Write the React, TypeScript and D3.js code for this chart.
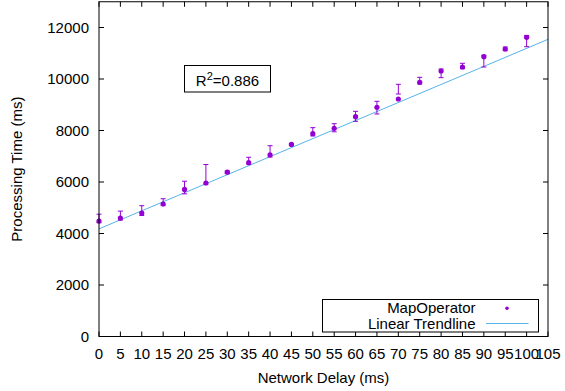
import React, { useEffect, useRef } from 'react';
import * as d3 from 'd3';

// Network delay (ms)
const delays = [0, 5, 10, 15, 20, 25, 30, 35, 40, 45, 50, 55, 60, 65, 70, 75, 80, 85, 90, 95, 100];
// Mean processing time (ms) for MapOperator
const means = [4485, 4600, 4795, 5145, 5710, 5961, 6380, 6750, 7055, 7460, 7876, 8085, 8536, 8900, 9223, 9872, 10311, 10466, 10866, 11165, 11619];
// Error bar low / high
const lows = [4420, 4520, 4700, 5100, 5540, 5920, 6330, 6700, 6970, 7420, 7790, 7950, 8357, 8641, 9417, 9806, 10051, 10400, 10466, 11100, 11254];
const highs = [4750, 4870, 5080, 5350, 6030, 6680, 6430, 6960, 7410, 7500, 8110, 8264, 8745, 9134, 9794, 10066, 10388, 10610, 10920, 11243, 11690];

const xTicks = d3.range(0, 106, 5);
const yTicks = [0, 2000, 4000, 6000, 8000, 10000, 12000];

const trendSlope = 70.1;
const trendIntercept = 4180;
const rSquared = '0.886';

const W = 565;
const H = 391;

export default function App() {
  const ref = useRef<SVGSVGElement>(null);

  useEffect(() => {
    const svg = d3.select(ref.current);
    svg.selectAll('*').remove();

    const left = 99, right = 548, top = 1.75, bottom = 336.5;
    const font = 'Liberation Sans, Arial, sans-serif';

    const x = d3.scaleLinear().domain([0, 105]).range([left, right]);
    const y = d3.scaleLinear().domain([0, 13000]).range([bottom, top]);

    const g = svg.append('g');

    // ticks (inward, mirrored)
    const tickLen = 5;
    xTicks.forEach(t => {
      g.append('line').attr('x1', x(t)).attr('x2', x(t))
        .attr('y1', bottom).attr('y2', bottom - tickLen)
        .attr('stroke', 'black').attr('stroke-width', 1);
      g.append('line').attr('x1', x(t)).attr('x2', x(t))
        .attr('y1', top).attr('y2', top + tickLen)
        .attr('stroke', 'black').attr('stroke-width', 1);
      g.append('text')
        .attr('x', x(t)).attr('y', 358.5)
        .attr('text-anchor', 'middle')
        .attr('font-family', font).attr('font-size', 15)
        .text(t);
    });
    yTicks.forEach(t => {
      g.append('line').attr('x1', left).attr('x2', left + tickLen)
        .attr('y1', y(t)).attr('y2', y(t))
        .attr('stroke', 'black').attr('stroke-width', 1);
      g.append('line').attr('x1', right).attr('x2', right - tickLen)
        .attr('y1', y(t)).attr('y2', y(t))
        .attr('stroke', 'black').attr('stroke-width', 1);
      g.append('text')
        .attr('x', 89).attr('y', y(t) + 5.3)
        .attr('text-anchor', 'end')
        .attr('font-family', font).attr('font-size', 15)
        .text(t);
    });

    // trendline
    const line = d3.line<number>()
      .x(d => x(d))
      .y(d => y(trendIntercept + trendSlope * d));
    g.append('path')
      .datum([0, 105])
      .attr('d', line)
      .attr('fill', 'none')
      .attr('stroke', '#56b4e9')
      .attr('stroke-width', 1);

    // error bars
    const cap = 2.5;
    delays.forEach((d, i) => {
      const cx = x(d);
      g.append('line').attr('x1', cx).attr('x2', cx)
        .attr('y1', y(lows[i])).attr('y2', y(highs[i]))
        .attr('stroke', '#9400d3').attr('stroke-width', 1);
      [lows[i], highs[i]].forEach(v => {
        g.append('line').attr('x1', cx - cap).attr('x2', cx + cap)
          .attr('y1', y(v)).attr('y2', y(v))
          .attr('stroke', '#9400d3').attr('stroke-width', 1);
      });
    });

    // points
    g.selectAll('circle.pt')
      .data(delays)
      .enter()
      .append('circle')
      .attr('class', 'pt')
      .attr('cx', d => x(d))
      .attr('cy', (d, i) => y(means[i]))
      .attr('r', 2.6)
      .attr('fill', '#9400d3');

    // border
    g.append('rect')
      .attr('x', left).attr('y', top)
      .attr('width', right - left).attr('height', bottom - top)
      .attr('fill', 'none').attr('stroke', 'black').attr('stroke-width', 1);

    // R^2 label
    g.append('rect')
      .attr('x', 184.5).attr('y', 65.5)
      .attr('width', 86).attr('height', 26.5)
      .attr('fill', 'white').attr('stroke', 'black').attr('stroke-width', 1);
    const r2 = g.append('text')
      .attr('x', 227.5).attr('y', 85.5)
      .attr('text-anchor', 'middle')
      .attr('font-family', font).attr('font-size', 15);
    r2.append('tspan').text('R');
    r2.append('tspan').attr('dy', -6).attr('font-size', 11).text('2');
    r2.append('tspan').attr('dy', 6).text('=' + rSquared);

    // legend
    g.append('rect')
      .attr('x', 322.5).attr('y', 299.5)
      .attr('width', 216).attr('height', 32.5)
      .attr('fill', 'white').attr('stroke', 'black').attr('stroke-width', 1);
    g.append('text')
      .attr('x', 475.5).attr('y', 312.8)
      .attr('text-anchor', 'end')
      .attr('font-family', font).attr('font-size', 15)
      .text('MapOperator');
    g.append('circle')
      .attr('cx', 507).attr('cy', 308.3).attr('r', 1.8)
      .attr('fill', '#9400d3');
    g.append('text')
      .attr('x', 475.5).attr('y', 328.8)
      .attr('text-anchor', 'end')
      .attr('font-family', font).attr('font-size', 15)
      .text('Linear Trendline');
    g.append('line')
      .attr('x1', 486).attr('x2', 528.5)
      .attr('y1', 323.5).attr('y2', 323.5)
      .attr('stroke', '#56b4e9').attr('stroke-width', 1);

    // axis titles
    g.append('text')
      .attr('x', (left + right) / 2).attr('y', 383)
      .attr('text-anchor', 'middle')
      .attr('font-family', font).attr('font-size', 15)
      .text('Network Delay (ms)');
    g.append('text')
      .attr('transform', `translate(22, ${(top + bottom) / 2}) rotate(-90)`)
      .attr('text-anchor', 'middle')
      .attr('font-family', font).attr('font-size', 15)
      .text('Processing Time (ms)');
  }, []);

  return (
    <svg
      ref={ref}
      width={W}
      height={H}
      style={{ position: 'absolute', left: 0, top: 0, background: 'white' }}
    />
  );
}
